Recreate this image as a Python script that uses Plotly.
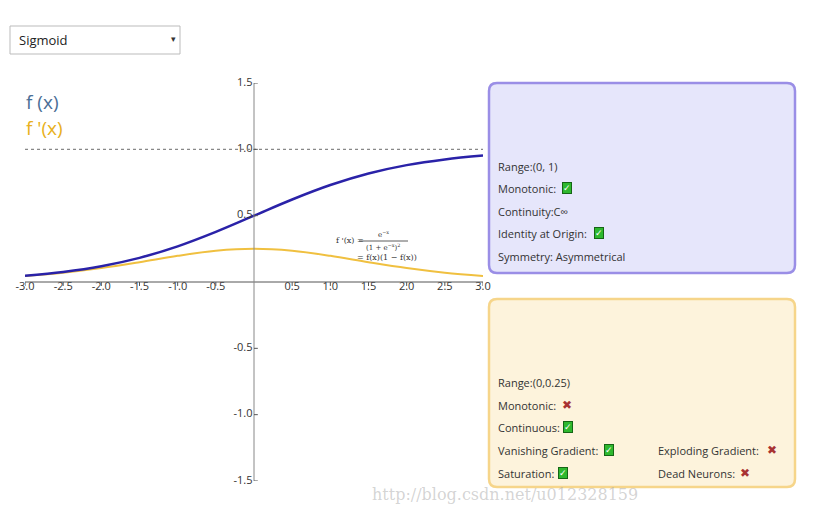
import plotly.graph_objects as go

x_vals = [-3, -2.5, -2, -1.5, -1, -0.5, 0, 0.5, 1, 1.5, 2, 2.5, 3]
f_vals = [0.047, 0.076, 0.119, 0.182, 0.269, 0.378, 0.5, 0.622, 0.731, 0.818, 0.881, 0.924, 0.953]
df_vals = [0.045, 0.070, 0.105, 0.149, 0.197, 0.235, 0.25, 0.235, 0.197, 0.149, 0.105, 0.070, 0.045]
x_ticks = [-3, -2.5, -2, -1.5, -1, -0.5, 0.5, 1, 1.5, 2, 2.5, 3]
x_tick_labels = ["-3.0", "-2.5", "-2.0", "-1.5", "-1.0", "-0.5", "0.5", "1.0", "1.5", "2.0", "2.5", "3.0"]
y_ticks = [1.5, 1.0, 0.5, -0.5, -1.0, -1.5]
y_tick_labels = ["1.5", "1.0", "0.5", "-0.5", "-1.0", "-1.5"]

OFF = 8  # page body margin
W, H = 825 - OFF, 516 - OFF
L, R, T, B = 25, 483, 83, 481
def px(x): return (x - L) / (R - L)
def py(y): return (B - y) / (B - T)

fig = go.Figure()
fig.add_trace(go.Scatter(x=x_vals, y=df_vals, mode="lines", line=dict(color="#f0c040", width=2, shape="spline"), hoverinfo="skip"))
fig.add_trace(go.Scatter(x=x_vals, y=f_vals, mode="lines", line=dict(color="#2a22a8", width=2.5, shape="spline"), hoverinfo="skip"))
fig.add_trace(go.Scatter(x=x_ticks, y=[0]*len(x_ticks), mode="text", text=x_tick_labels, textposition="bottom center", cliponaxis=False,
                         textfont=dict(size=11, color="#333", family="Open Sans"), hoverinfo="skip"))
fig.add_trace(go.Scatter(x=[-0.02]*len(y_ticks), y=y_ticks, mode="text", text=y_tick_labels, textposition="middle left", cliponaxis=False,
                         textfont=dict(size=11, color="#333", family="Open Sans"), hoverinfo="skip"))

shapes = [
    dict(type="line", x0=-3, x1=3, y0=0, y1=0, line=dict(color="#555", width=1)),
    dict(type="line", x0=0, x1=0, y0=-1.5, y1=1.5, line=dict(color="#888", width=1)),
    dict(type="line", x0=-3, x1=3, y0=1, y1=1, line=dict(color="#888", width=1.2, dash="dot")),
]
for t in x_ticks:
    shapes.append(dict(type="line", x0=t, x1=t, y0=0, y1=-0.03, line=dict(color="#555", width=1)))
for t in y_ticks:
    shapes.append(dict(type="line", x0=0, x1=0.05, y0=t, y1=t, line=dict(color="#555", width=1)))

def rbox(x0, y0, x1, y1, r, fill, line):
    a0, a1 = px(x0), px(x1); b0, b1 = py(y1), py(y0)
    rx = r / (R - L); ry = r / (B - T)
    path = (f"M {a0+rx},{b0} L {a1-rx},{b0} Q {a1},{b0} {a1},{b0+ry} L {a1},{b1-ry} Q {a1},{b1} {a1-rx},{b1} "
            f"L {a0+rx},{b1} Q {a0},{b1} {a0},{b1-ry} L {a0},{b0+ry} Q {a0},{b0} {a0+rx},{b0} Z")
    return dict(type="path", xref="paper", yref="paper", path=path, fillcolor=fill, line=dict(color=line, width=2.5), layer="below")

shapes.append(rbox(489, 83, 795, 273, 8, "#e6e6fb", "#9a8ee6"))
shapes.append(rbox(489, 299, 795, 487, 8, "#fdf3dc", "#f6d58a"))
shapes.append(dict(type="rect", xref="paper", yref="paper", x0=px(10), x1=px(180), y0=py(54), y1=py(26),
                   line=dict(color="#bbb", width=1), fillcolor="white"))
shapes.append(dict(type="line", xref="paper", yref="paper", x0=px(359), x1=px(408), y0=py(241), y1=py(241),
                   line=dict(color="#333", width=0.8)))

ann = []
def text(xp, yp, s, size=11, color="#333", family="Open Sans", anchor="left", **kw):
    ann.append(dict(xref="paper", yref="paper", x=px(xp), y=py(yp), text=s, showarrow=False,
                    xanchor=anchor, yanchor="middle", font=dict(size=size, color=color, family=family), **kw))
def check(xp, yp):
    ann.append(dict(xref="paper", yref="paper", x=px(xp), y=py(yp), text="✓", showarrow=False, xanchor="left", yanchor="middle",
                    font=dict(size=9, color="white", family="DejaVu Sans"), bgcolor="#2eb82e", bordercolor="#156615", borderwidth=1, borderpad=0))
def cross(xp, yp):
    text(xp, yp, "✖", size=12, color="#a83232", family="DejaVu Sans")

text(17, 40, "Sigmoid", size=13, color="#222")
text(173, 39, "▾", size=9, color="#333", family="DejaVu Sans", anchor="center")
text(24, 102, "f (x)", size=19, color="#4a6e96")
text(24, 128, "f '(x)", size=19, color="#e8b020")
text(334, 240, "f '(x) =", size=8, color="#333", family="DejaVu Serif")
text(383, 234, "e<sup>−x</sup>", size=7, color="#333", family="DejaVu Serif", anchor="center")
text(383, 247, "(1 + e<sup>−x</sup>)<sup>2</sup>", size=7, color="#333", family="DejaVu Serif", anchor="center")
text(355, 258, "= f(x)(1 − f(x))", size=8, color="#333", family="DejaVu Serif")

text(496, 166, "Range:(0, 1)")
text(496, 188, "Monotonic:"); check(562, 188)
text(496, 211, "Continuity:C∞")
text(496, 233, "Identity at Origin:"); check(594, 233)
text(496, 256, "Symmetry: Asymmetrical")

text(496, 382, "Range:(0,0.25)")
text(496, 405, "Monotonic:"); cross(560, 405)
text(496, 427, "Continuous:"); check(563, 427)
text(496, 450, "Vanishing Gradient:"); check(604, 450)
text(496, 473, "Saturation:"); check(558, 473)
text(656, 450, "Exploding Gradient:"); cross(765, 450)
text(656, 473, "Dead Neurons:"); cross(738, 473)
text(370, 494, "http://blog.csdn.net/u012328159", size=16, color="rgba(160,160,160,0.45)", family="DejaVu Serif")

fig.update_layout(
    width=W, height=H, margin=dict(l=L - OFF, r=W - (R - OFF), t=T - OFF, b=H - (B - OFF)),
    paper_bgcolor="white", plot_bgcolor="white", showlegend=False,
    xaxis=dict(range=[-3, 3], visible=False),
    yaxis=dict(range=[-1.5, 1.5], visible=False),
    shapes=shapes, annotations=ann,
)
fig.write_html("out.html")
